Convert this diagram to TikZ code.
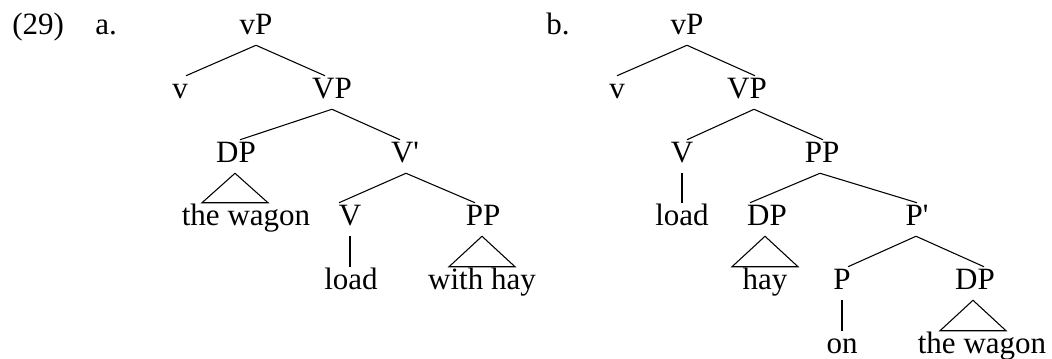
\documentclass[tikz,border=0pt]{standalone}
\usepackage{fontspec}
\setmainfont{Liberation Serif}
\usetikzlibrary{calc}
\tikzset{
  lab/.style={font=\fontsize{23.25pt}{28pt}\selectfont, inner sep=0pt, anchor=base,
              text height=16.5pt, text depth=8.25pt},
  num/.style={font=\fontsize{23.25pt}{28pt}\selectfont, inner sep=0pt, anchor=base west},
  br/.style={line width=0.8pt, line join=miter},
}
\newcommand{\treeedge}[4]{\draw[br] ($(#1.south)+(#2,0)$) -- ($(#3.north)+(#4,0)$);}
\newcommand{\treetri}[3]{\draw[br] ($(#1.south)+(#3,0)$) -- ($(#1.south |- #2.north)+(#3-33,0)$) -- ($(#1.south |- #2.north)+(#3+33,0)$) -- cycle;}
\begin{document}
\begin{tikzpicture}[x=0.75pt,y=-0.75pt]
\useasboundingbox (0,0) rectangle (1052,358);
% labels
\node[num] (ex) at (12,34) {(29)};
\node[num] (la) at (95,34) {a.};
\node[num] (lb) at (546,34) {b.};
% tree a
\node[lab] (vPa) at (256,34) {vP};
\node[lab] (va) at (180,98) {v};
\node[lab] (VPa) at (332,98) {VP};
\node[lab] (DPa) at (236,162) {DP};
\node[lab] (Vba) at (405,162) {V\textquotesingle};
\node[lab] (wagona) at (246,225) {the wagon};
\node[lab] (Va) at (350,225) {V};
\node[lab] (PPa) at (483,225) {PP};
\node[lab] (loada) at (351,289) {load};
\node[lab] (withhay) at (482,289) {with hay};
\treeedge{vPa}{0}{va}{6}
\treeedge{vPa}{0}{VPa}{-7}
\treeedge{VPa}{0}{DPa}{4}
\treeedge{VPa}{0}{Vba}{-5}
\treeedge{Vba}{1}{Va}{-11}
\treeedge{Vba}{1}{PPa}{-8}
\draw[br] (Va.south) -- (Va.south |- loada.north);
\treetri{DPa}{wagona}{-1}
\treetri{PPa}{withhay}{-1}
% tree b
\node[lab] (vPb) at (687,34) {vP};
\node[lab] (vb) at (617,98) {v};
\node[lab] (VPb) at (747,98) {VP};
\node[lab] (Vb) at (682,162) {V};
\node[lab] (PPb) at (822,162) {PP};
\node[lab] (loadb) at (682,225) {load};
\node[lab] (DPb) at (767,225) {DP};
\node[lab] (Pbb) at (917,225) {P\textquotesingle};
\node[lab] (hay) at (765,289) {hay};
\node[lab] (Pb) at (842,289) {P};
\node[lab] (DPc) at (975,289) {DP};
\node[lab] (on) at (842,353) {on};
\node[lab] (wagonb) at (982,353) {the wagon};
\treeedge{vPb}{0}{vb}{0}
\treeedge{vPb}{0}{VPb}{8}
\treeedge{VPb}{7}{Vb}{5}
\treeedge{VPb}{7}{PPb}{1}
\draw[br] (Vb.south) -- (Vb.south |- loadb.north);
\treeedge{PPb}{-2}{DPb}{-17}
\treeedge{PPb}{-2}{Pbb}{0}
\treetri{DPb}{hay}{-2}
\treeedge{Pbb}{-1}{Pb}{6}
\treeedge{Pbb}{-1}{DPc}{9}
\draw[br] (Pb.south) -- (Pb.south |- on.north);
\treetri{DPc}{wagonb}{-2}
\end{tikzpicture}
\end{document}
